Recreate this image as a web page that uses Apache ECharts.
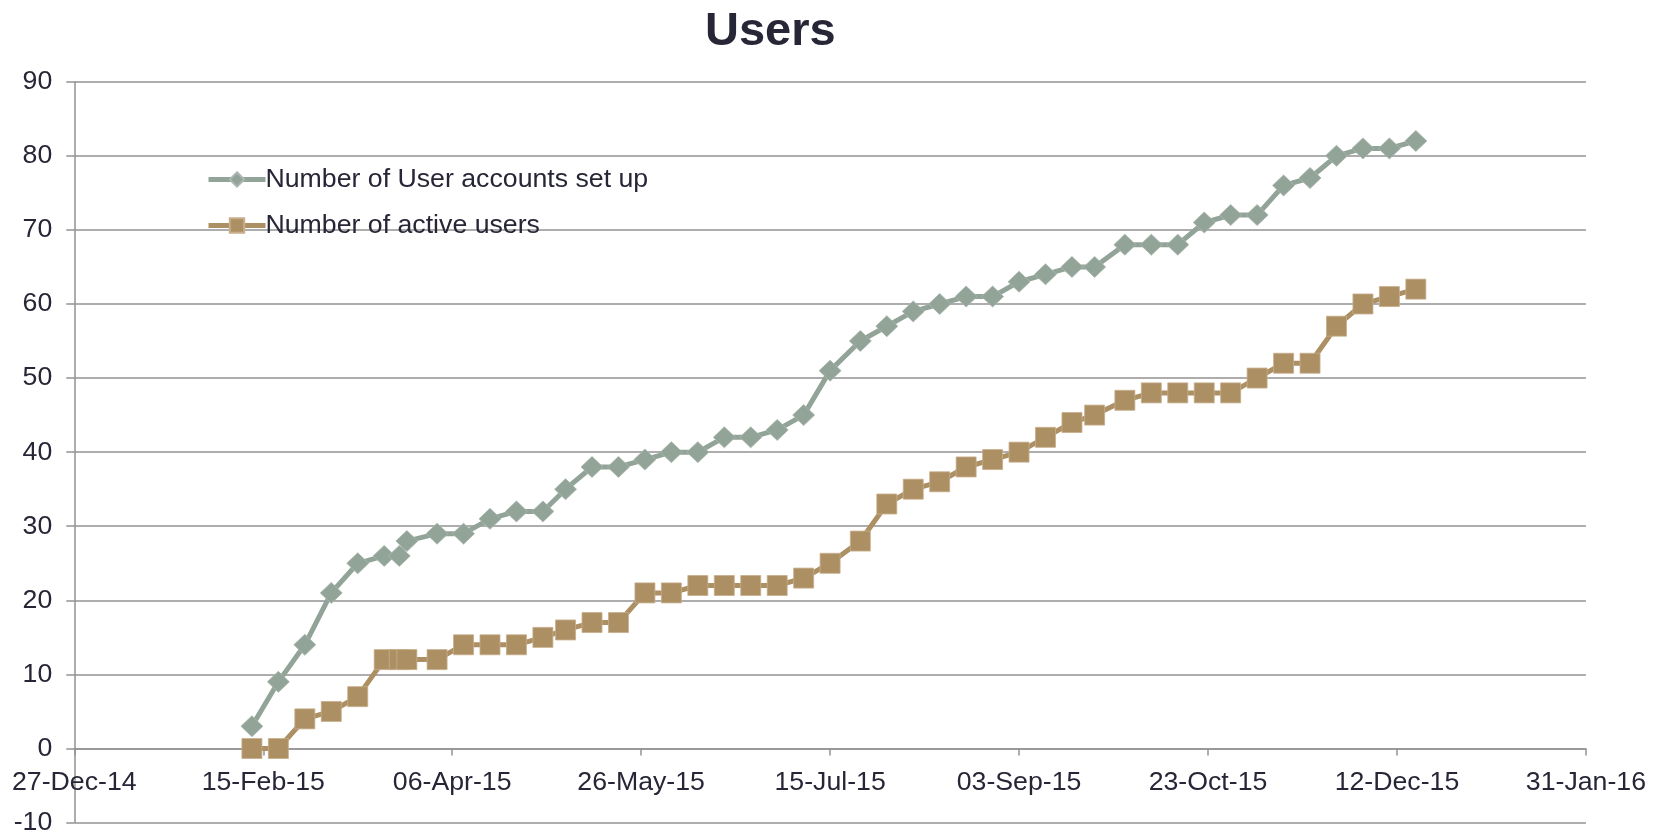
<!DOCTYPE html>
<html>
<head>
<meta charset="utf-8">
<script src="https://cdn.jsdelivr.net/npm/echarts@6/dist/echarts.min.js"></script>
<style>
  html, body { margin: 0; padding: 0; background: #ffffff; }
  #chart { width: 1661px; height: 833px; }
</style>
</head>
<body>
<div id="chart"></div>
<script>
// ---- data ----
const dates = ['2015-02-12','2015-02-19','2015-02-26','2015-03-05','2015-03-12','2015-03-19','2015-03-23','2015-03-25',
  '2015-04-02','2015-04-09','2015-04-16','2015-04-23','2015-04-30','2015-05-06','2015-05-13','2015-05-20','2015-05-27',
  '2015-06-03','2015-06-10','2015-06-17','2015-06-24','2015-07-01','2015-07-08','2015-07-15','2015-07-23','2015-07-30',
  '2015-08-06','2015-08-13','2015-08-20','2015-08-27','2015-09-03','2015-09-10','2015-09-17','2015-09-23','2015-10-01',
  '2015-10-08','2015-10-15','2015-10-22','2015-10-29','2015-11-05','2015-11-12','2015-11-19','2015-11-26','2015-12-03',
  '2015-12-10','2015-12-17'];
const accountsSetUp = [3,9,14,21,25,26,26,28,29,29,31,32,32,35,38,38,39,40,40,42,42,43,45,51,55,57,59,60,61,61,63,64,65,65,68,68,68,71,72,72,76,77,80,81,81,82];
const activeUsers = [0,0,4,5,7,12,12,12,12,14,14,14,15,16,17,17,21,21,22,22,22,22,23,25,28,33,35,36,38,39,40,42,44,45,47,48,48,48,48,50,52,52,57,60,61,62];
const seriesNames = ['Number of User accounts set up', 'Number of active users'];
const xTickLabels = ['27-Dec-14','15-Feb-15','06-Apr-15','26-May-15','15-Jul-15','03-Sep-15','23-Oct-15','12-Dec-15','31-Jan-16'];
const axisStartDate = '2014-12-27';
const tickStepDays = 50;
const yMin = -10, yMax = 90, yStep = 10;

// ---- build ----
const DAY = 86400000;
const base = Date.parse(axisStartDate + 'T00:00:00Z');
const dayOf = d => Math.round((Date.parse(d + 'T00:00:00Z') - base) / DAY);
const xMax = tickStepDays * (xTickLabels.length - 1);

const FONT = 'Liberation Sans, Arial, sans-serif';
const textColor = '#262636';
const gridColor = '#929292';
const greenColor = '#92A398';
const brownColor = '#AD8F64';

const W = 1661, H = 833;
const grid = { left: 74.3, right: 75.1, top: 81.7, bottom: 10.4 };
const plotH = H - grid.top - grid.bottom;
// the horizontal axis crosses the value axis at 0: lift it from the bottom edge by that distance
const zeroLift = plotH * (0 - yMin) / (yMax - yMin);

const chart = echarts.init(document.getElementById('chart'), null, { renderer: 'canvas' });
chart.setOption({
  animation: false,
  backgroundColor: '#ffffff',
  title: {
    text: 'Users',
    left: 700,
    top: 4,
    textStyle: { fontFamily: FONT, fontSize: 47, fontWeight: 'bold', color: textColor }
  },
  legend: {
    orient: 'vertical',
    left: 201,
    top: 161,
    itemWidth: 57,
    itemHeight: 18,
    itemGap: 19,
    lineStyle: { width: 5 },
    textStyle: { fontFamily: FONT, fontSize: 26.7, color: textColor, padding: [0, 0, 0, -5] },
    data: seriesNames
  },
  grid: Object.assign({ containLabel: false, outerBoundsMode: 'none' }, grid),
  xAxis: {
    type: 'value',
    position: 'bottom',
    offset: -zeroLift,
    min: 0,
    max: xMax,
    interval: tickStepDays,
    axisLine: { show: true, onZero: false, lineStyle: { color: gridColor, width: 1.5 } },
    axisTick: { show: true, length: 7, lineStyle: { color: gridColor, width: 1.5 } },
    splitLine: { show: false },
    axisLabel: {
      show: true,
      margin: 21,
      fontFamily: FONT,
      fontSize: 26.7,
      color: textColor,
      showMinLabel: true,
      showMaxLabel: true,
      formatter: v => xTickLabels[Math.round(v / tickStepDays)]
    }
  },
  yAxis: {
    type: 'value',
    min: yMin,
    max: yMax,
    interval: yStep,
    axisLine: { show: true, lineStyle: { color: gridColor, width: 1.5 } },
    axisTick: { show: true, length: 8, lineStyle: { color: gridColor, width: 1.5 } },
    splitLine: { show: true, lineStyle: { color: gridColor, width: 1.5 } },
    axisLabel: {
      margin: 22,
      fontFamily: FONT,
      fontSize: 26.7,
      color: textColor,
      showMinLabel: true,
      showMaxLabel: true
    }
  },
  series: [
    {
      name: seriesNames[0],
      type: 'line',
      data: dates.map((d, i) => [dayOf(d), accountsSetUp[i]]),
      symbol: 'diamond',
      symbolSize: [22, 21],
      showAllSymbol: true,
      lineStyle: { color: greenColor, width: 5 },
      itemStyle: { color: greenColor, borderColor: '#a9b7ae', borderWidth: 0.8 },
      z: 2
    },
    {
      name: seriesNames[1],
      type: 'line',
      data: dates.map((d, i) => [dayOf(d), activeUsers[i]]),
      symbol: 'rect',
      symbolSize: 20,
      showAllSymbol: true,
      lineStyle: { color: brownColor, width: 5 },
      itemStyle: { color: brownColor, borderColor: '#c7ae8c', borderWidth: 0.8 },
      z: 3
    }
  ]
});
</script>
</body>
</html>
